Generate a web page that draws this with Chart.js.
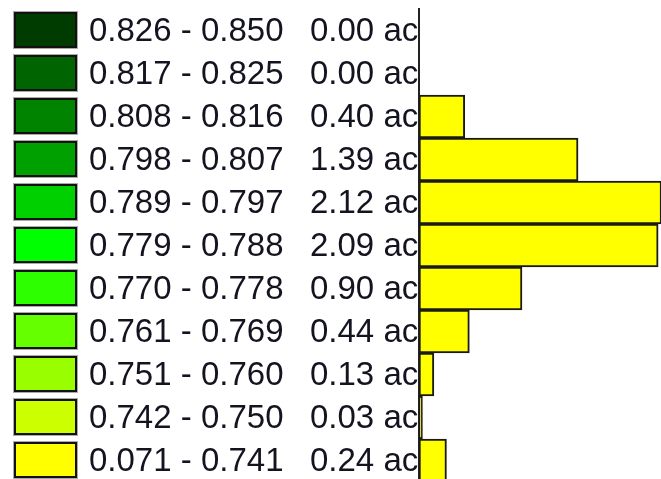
<!DOCTYPE html>
<html>
<head>
<meta charset="utf-8">
<script src="https://cdn.jsdelivr.net/npm/chart.js@4/dist/chart.umd.min.js"></script>
<style>
html,body{margin:0;padding:0;background:#fff;overflow:hidden;width:661px;height:479px;}
canvas{display:block;}
</style>
</head>
<body>
<canvas id="c" width="661" height="482"></canvas>
<script>
const ranges = ["0.826 - 0.850","0.817 - 0.825","0.808 - 0.816","0.798 - 0.807","0.789 - 0.797","0.779 - 0.788","0.770 - 0.778","0.761 - 0.769","0.751 - 0.760","0.742 - 0.750","0.071 - 0.741"];
const acres = [0.00, 0.00, 0.40, 1.39, 2.12, 2.09, 0.90, 0.44, 0.13, 0.03, 0.24];
const acreLabels = ["0.00 ac","0.00 ac","0.40 ac","1.39 ac","2.12 ac","2.09 ac","0.90 ac","0.44 ac","0.13 ac","0.03 ac","0.24 ac"];
const swatchColors = ["#003c00","#006400","#008400","#00a000","#00d000","#00ff00","#2eff00","#66ff00","#99ff00","#ccff00","#ffff00"];

const legendPlugin = {
  id: 'legendRows',
  beforeDatasetsDraw(chart) {
    const ctx = chart.ctx;
    const y = chart.scales.y;
    ctx.save();
    ctx.beginPath();
    ctx.rect(0, 0, chart.chartArea.left, chart.height);
    ctx.clip();
    ranges.forEach((r, i) => {
      const cy = y.getPixelForValue(i);
      const sx = 14, sw = 63, sh = 36, sy = Math.round(cy - sh / 2) - 1;
      ctx.strokeStyle = '#aaaaaa';
      ctx.lineWidth = 1;
      ctx.strokeRect(sx - 0.5, sy - 0.5, sw + 1, sh + 1);
      ctx.fillStyle = '#111';
      ctx.fillRect(sx, sy, sw, sh);
      ctx.fillStyle = swatchColors[i];
      ctx.fillRect(sx + 2, sy + 2, sw - 4, sh - 4);
      ctx.fillStyle = '#141420';
      ctx.font = '33px "Liberation Sans", Arial, sans-serif';
      ctx.textBaseline = 'middle';
      ctx.textAlign = 'left';
      ctx.fillText(r, 89, cy + 1);
      ctx.fillText(acreLabels[i], 310, cy + 1);
    });
    ctx.restore();
  }
};

new Chart(document.getElementById('c'), {
  type: 'bar',
  data: {
    labels: ranges,
    datasets: [{
      data: acres,
      backgroundColor: '#ffff00',
      borderColor: '#1a1a1a',
      borderWidth: 2,
      borderSkipped: false,
      barPercentage: 1,
      categoryPercentage: 1
    }]
  },
  options: {
    indexAxis: 'y',
    responsive: false,
    devicePixelRatio: 1,
    animation: false,
    layout: { padding: { left: 419, top: 9, right: 0, bottom: 0 } },
    plugins: { legend: { display: false }, tooltip: { enabled: false } },
    scales: {
      x: { display: false, min: 0, max: 2.115 },
      y: {
        display: true,
        ticks: { display: false },
        grid: { display: false, drawTicks: false },
        border: { display: true, color: '#222', width: 2 },
        afterFit(s) { s.width = 0; }
      }
    }
  },
  plugins: [legendPlugin]
});
</script>
</body>
</html>
